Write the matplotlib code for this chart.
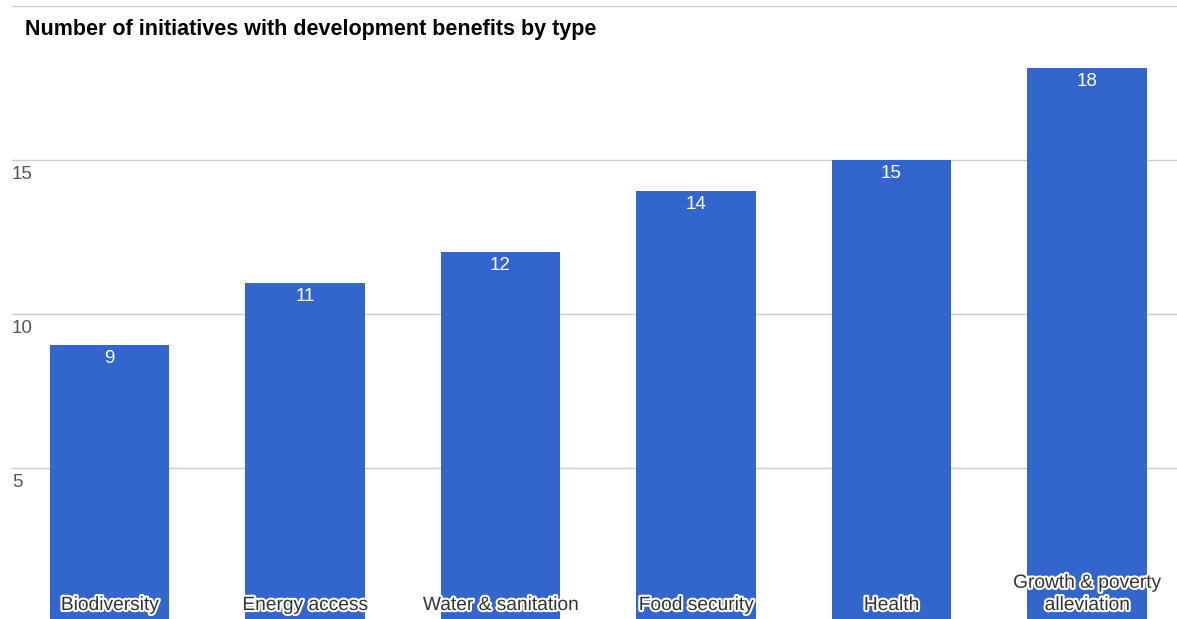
import matplotlib.pyplot as plt
import matplotlib.patheffects as pe
from matplotlib.transforms import offset_copy

categories = ["Biodiversity", "Energy access", "Water & sanitation",
              "Food security", "Health", "Growth & poverty\nalleviation"]
counts = [9, 11, 12, 14, 15, 18]
yticks = [5, 10, 15, 20]
ytick_labels = ["5", "10", "15", ""]

plt.rcParams["font.family"] = ["Liberation Sans", "DejaVu Sans"]

W, H = 1177, 619
fig = plt.figure(figsize=(W / 100, H / 100), dpi=100)
ax = fig.add_axes([11.75 / W, -3 / H, 1173 / W, 616 / H])

x = range(len(categories))
ax.bar(x, counts, width=0.61, color="#3366cc", zorder=2)
ax.set_xlim(-0.5, 5.5)
ax.set_ylim(0, 20)

for y in yticks:
    ax.axhline(y, color="#cccccc", lw=1, zorder=1)
for s in ax.spines.values():
    s.set_visible(False)
ax.set_xticks([])
ax.set_yticks([])

# y tick labels sit just below their gridline, at the left edge
for y, lab in zip(yticks, ytick_labels):
    ax.text(0.0, y, lab, transform=offset_copy(ax.get_yaxis_transform(), fig=fig, x=0, y=-6, units="dots"),
            ha="left", va="top", fontsize=13.5, color="#555555")

outline = [pe.withStroke(linewidth=3, foreground="white")]
for i, (cat, v) in enumerate(zip(categories, counts)):
    ax.text(i, v, str(v), transform=offset_copy(ax.transData, fig=fig, x=0, y=-5, units="dots"),
            ha="center", va="top", fontsize=13.5, color="white", zorder=3)
    ax.text(i, 0, cat, transform=offset_copy(ax.transData, fig=fig, x=0, y=8, units="dots"),
            ha="center", va="bottom", fontsize=13.8, color="#333333",
            linespacing=1.4, path_effects=outline, zorder=3)

fig.text(25 / W, 1 - 30 / H, "Number of initiatives with development benefits by type",
         ha="left", va="center", fontsize=15.5, fontweight="bold", color="#000000")

fig.savefig("out.png", dpi=100)
